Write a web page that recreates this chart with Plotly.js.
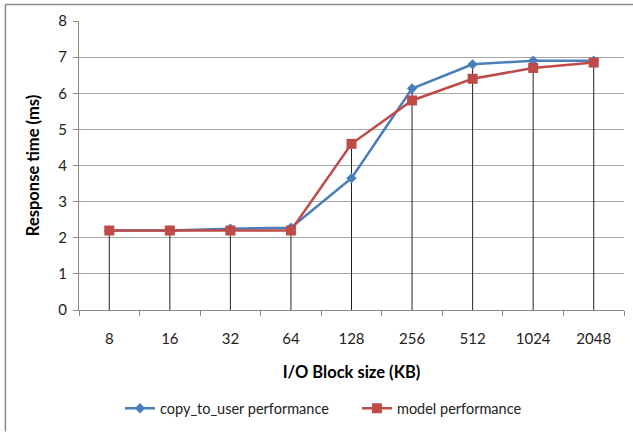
<!DOCTYPE html>
<html>
<head>
<meta charset="utf-8">
<script src="https://cdn.plot.ly/plotly-3.0.1.min.js"></script>
<style>html,body{margin:0;padding:0;background:#fff;}#chart{width:633px;height:433px;}</style>
</head>
<body>
<div id="chart"></div>
<script>
const categories = ["8", "16", "32", "64", "128", "256", "512", "1024", "2048"];
const copyToUser = [2.2, 2.2, 2.25, 2.28, 3.65, 6.13, 6.8, 6.9, 6.9];
const modelPerf = [2.2, 2.2, 2.2, 2.2, 4.6, 5.8, 6.4, 6.7, 6.85];
const seriesNames = ["copy_to_user performance", "model performance"];

const dropTops = categories.map((c, i) => Math.max(copyToUser[i], modelPerf[i]));
const dropShapes = categories.map((c, i) => ({
  type: "line", xref: "x", yref: "y", layer: "between",
  x0: i, x1: i, y0: 0, y1: dropTops[i],
  line: {color: "#222", width: 1}
}));

const frameShapes = [
  {type: "line", xref: "paper", yref: "paper", x0: -0.135, x1: 1.02, y0: 1.057, y1: 1.057, line: {color: "#8a8a8a", width: 1.5}},
  {type: "line", xref: "paper", yref: "paper", x0: -0.135, x1: -0.135, y0: 1.057, y1: -0.42, line: {color: "#8a8a8a", width: 1.5}}
];

const traces = [
  {x: categories, y: copyToUser, name: seriesNames[0], type: "scatter", mode: "lines+markers",
   line: {color: "#4A7EBB", width: 2.5}, marker: {symbol: "diamond", size: 8, color: "#4A7EBB"}},
  {x: categories, y: modelPerf, name: seriesNames[1], type: "scatter", mode: "lines+markers",
   line: {color: "#BE4B48", width: 2.5}, marker: {symbol: "square", size: 10, color: "#BE4B48"}}
];

const layout = {
  width: 633, height: 433,
  margin: {l: 79, r: 9, t: 21, b: 120},
  paper_bgcolor: "#fff", plot_bgcolor: "#fff",
  font: {family: "Lato, 'Liberation Sans', sans-serif", size: 15, color: "#222"},
  showlegend: true,
  legend: {orientation: "h", x: 0.51, xanchor: "center", y: -0.34, yanchor: "middle",
           font: {size: 14.5, color: "#222"}, itemwidth: 30, entrywidth: 192},
  xaxis: {
    type: "category", range: [-0.5, 8.5], showgrid: false, zeroline: false,
    showline: true, linecolor: "#888", linewidth: 1,
    ticks: "outside", tickson: "boundaries", ticklen: 5, tickcolor: "#888",
    ticklabelstandoff: 15,
    tickfont: {size: 15, color: "#222"},
    title: {text: "I/O Block size (KB)", font: {size: 16.5, color: "#000", weight: "bold"}, standoff: 20}
  },
  yaxis: {
    range: [0, 8], dtick: 1, showgrid: true, gridcolor: "#a6a6a6", gridwidth: 1,
    zeroline: false, showline: true, linecolor: "#888", linewidth: 1,
    ticks: "outside", ticklen: 5, tickcolor: "#888",
    ticklabelstandoff: 3,
    tickfont: {size: 15, color: "#222"},
    title: {text: "Response time (ms)", font: {size: 16.5, color: "#000", weight: "bold"}, standoff: 14}
  },
  shapes: dropShapes.concat(frameShapes)
};

Plotly.newPlot("chart", traces, layout, {staticPlot: true, displayModeBar: false});
</script>
</body>
</html>
